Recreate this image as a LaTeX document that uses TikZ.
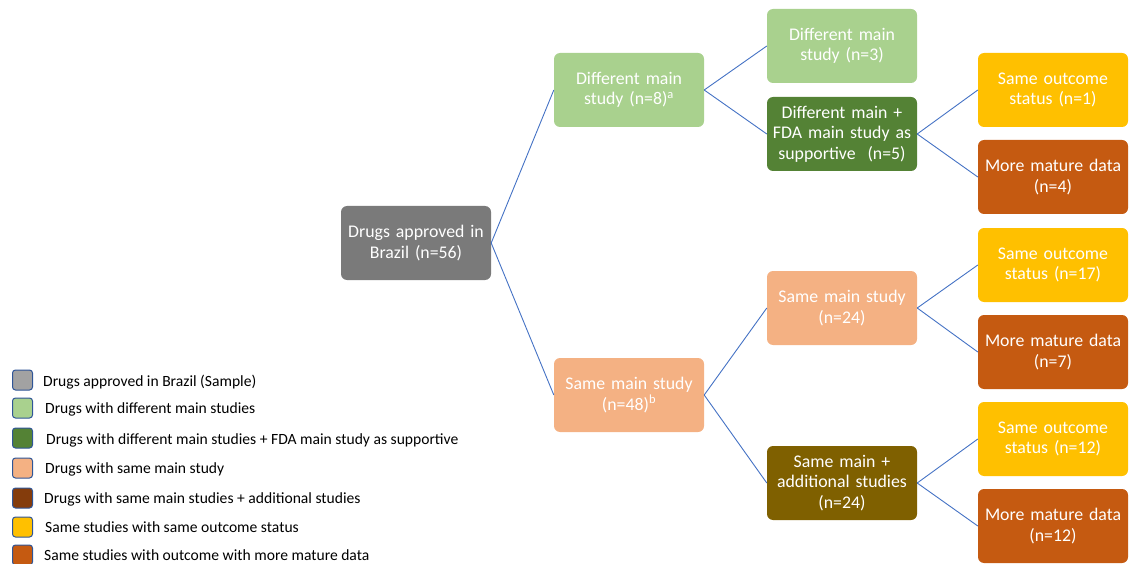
\documentclass[tikz,border=0pt]{standalone}
\usepackage{fontspec}
\setmainfont{Carlito}
\definecolor{cgray}{HTML}{7A7A7A}
\definecolor{clgreen}{HTML}{A9D18E}
\definecolor{cdgreen}{HTML}{548235}
\definecolor{cpeach}{HTML}{F4B183}
\definecolor{colive}{HTML}{7F6000}
\definecolor{cyellow}{HTML}{FFC000}
\definecolor{corange}{HTML}{C55A11}
\definecolor{cbrown}{HTML}{843C0C}
\definecolor{cline}{HTML}{4472C4}
\definecolor{cborder}{HTML}{2F5597}
\tikzset{
  box/.style={rounded corners=6pt, minimum width=150pt, minimum height=74pt, inner sep=0pt,
    text width=148pt, align=center, text=white, font=\fontsize{17.8}{20.5}\selectfont},
  conn/.style={draw=cline, line width=0.9pt},
  legsq/.style={draw=cborder, line width=1pt, rounded corners=3pt, minimum width=20pt, minimum height=20pt, inner sep=0pt},
  legtx/.style={anchor=west, inner sep=0pt, font=\fontsize{15.6}{18}\selectfont, text=black}
}
\begin{document}
\begin{tikzpicture}[x=1pt,y=-1pt]
\useasboundingbox (0,0) rectangle (1132,564);
% tree nodes
\node[box, fill=cgray] (root) at (416,243) {Drugs approved in\\Brazil (n=56)};
\node[box, fill=clgreen] (dm) at (629,90) {Different main\\study (n=8)\textsuperscript{a}};
\node[box, fill=cpeach] (sm) at (629,395) {Same main study\\(n=48)\textsuperscript{b}};
\node[box, fill=clgreen] (dm3) at (842,46) {Different main\\study (n=3)};
\node[box, fill=cdgreen] (dmf) at (842,134) {Different main +\\FDA main study as\\supportive\ \ (n=5)};
\node[box, fill=cpeach] (sm24) at (842,308) {Same main study\\(n=24)};
\node[box, fill=colive] (sma) at (842,483) {Same main +\\additional studies\\(n=24)};
\node[box, fill=cyellow] (o1) at (1053,90) {Same outcome\\status (n=1)};
\node[box, fill=corange] (m4) at (1053,177) {More mature data\\(n=4)};
\node[box, fill=cyellow] (o17) at (1053,265) {Same outcome\\status (n=17)};
\node[box, fill=corange] (m7) at (1053,352) {More mature data\\(n=7)};
\node[box, fill=cyellow] (o12) at (1053,439) {Same outcome\\status (n=12)};
\node[box, fill=corange] (m12) at (1053,526) {More mature data\\(n=12)};
% connectors
\draw[conn] (root.east) -- (dm.west);
\draw[conn] (root.east) -- (sm.west);
\draw[conn] (dm.east) -- (dm3.west);
\draw[conn] (dm.east) -- (dmf.west);
\draw[conn] (sm.east) -- (sm24.west);
\draw[conn] (sm.east) -- (sma.west);
\draw[conn] (dmf.east) -- (o1.west);
\draw[conn] (dmf.east) -- (m4.west);
\draw[conn] (sm24.east) -- (o17.west);
\draw[conn] (sm24.east) -- (m7.west);
\draw[conn] (sma.east) -- (o12.west);
\draw[conn] (sma.east) -- (m12.west);
% legend
\node[legsq, fill=cgray!70] (l1) at (22.5,380) {};
\node[legtx] (t1) at (43,382) {Drugs approved in Brazil (Sample)};
\node[legsq, fill=clgreen] (l2) at (22.5,408) {};
\node[legtx] (t2) at (45,409) {Drugs with different main studies};
\node[legsq, fill=cdgreen] (l3) at (22.5,438) {};
\node[legtx] (t3) at (46,440) {Drugs with different main studies + FDA main study as supportive};
\node[legsq, fill=cpeach] (l4) at (22.5,468) {};
\node[legtx] (t4) at (45,469) {Drugs with same main study};
\node[legsq, fill=cbrown] (l5) at (22.5,498) {};
\node[legtx] (t5) at (44,499) {Drugs with same main studies + additional studies};
\node[legsq, fill=cyellow] (l6) at (22.5,527) {};
\node[legtx] (t6) at (45,527) {Same studies with same outcome status};
\node[legsq, fill=corange] (l7) at (22.5,555) {};
\node[legtx] (t7) at (44,555) {Same studies with outcome with more mature data};
\end{tikzpicture}
\end{document}
